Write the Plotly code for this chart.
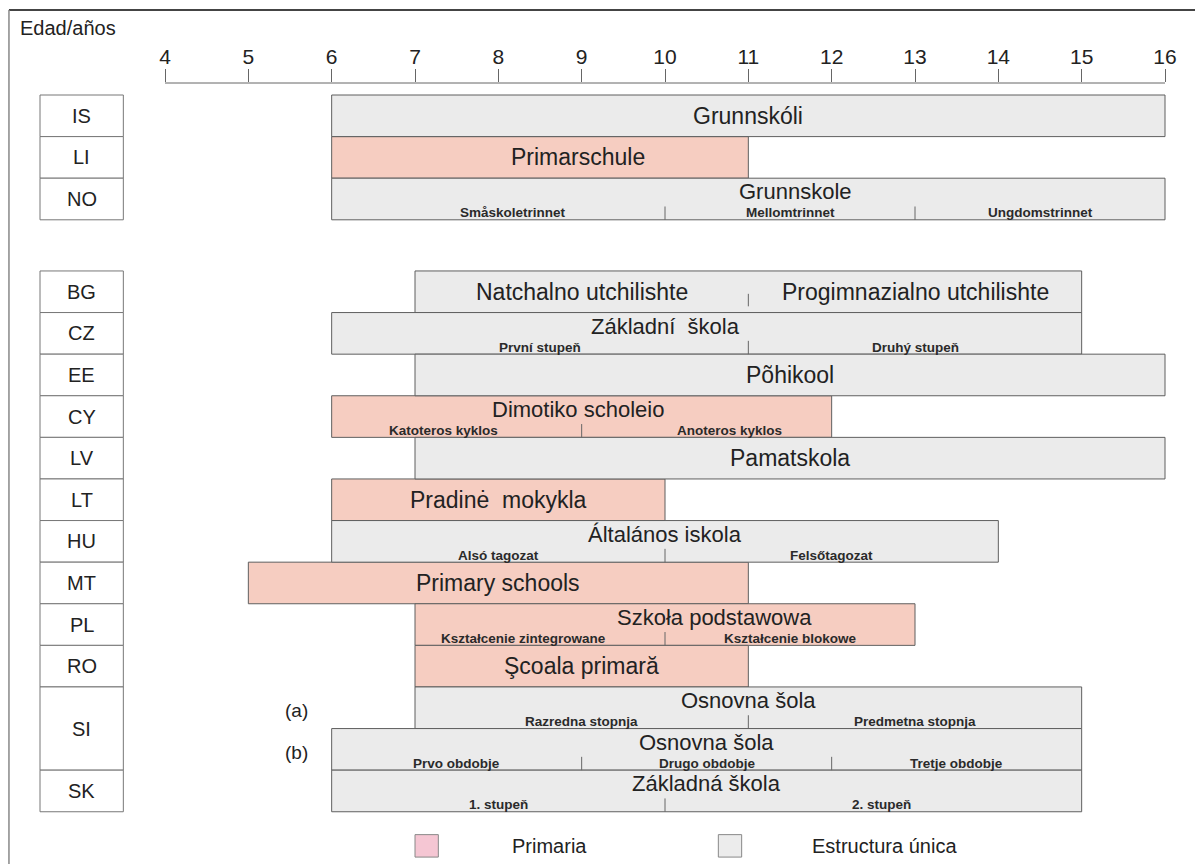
import plotly.graph_objects as go

# ---------------- data ----------------
row_country = ["IS", "LI", "NO", "BG", "CZ", "EE", "CY", "LV", "LT", "HU",
               "MT", "PL", "RO", "SI", "SI", "SK"]
row_variant = ["", "", "", "", "", "", "", "", "", "", "", "", "", "(a)", "(b)", ""]
start_age = [6, 6, 6, 7, 6, 7, 6, 7, 6, 6, 5, 7, 7, 7, 6, 6]
end_age = [16, 11, 16, 15, 15, 16, 12, 16, 10, 14, 11, 13, 11, 15, 15, 15]
school_type = ["Estructura única", "Primaria", "Estructura única", "Estructura única",
               "Estructura única", "Estructura única", "Primaria", "Estructura única",
               "Primaria", "Estructura única", "Primaria", "Primaria", "Primaria",
               "Estructura única", "Estructura única", "Estructura única"]
main_label = ["Grunnskóli", "Primarschule", "Grunnskole", "", "Základní  škola",
              "Põhikool", "Dimotiko scholeio", "Pamatskola", "Pradinė  mokykla",
              "Általános iskola", "Primary schools", "Szkoła podstawowa",
              "Şcoala primară", "Osnovna šola", "Osnovna šola", "Základná škola"]
# stage boundaries (ages) and stage names per row
stage_breaks = [[], [], [10, 13], [11], [11], [], [9], [], [], [10], [], [10], [],
                [11], [9, 12], [10]]
stage_names = [[], [], ["Småskoletrinnet", "Mellomtrinnet", "Ungdomstrinnet"],
               ["Natchalno utchilishte", "Progimnazialno utchilishte"],
               ["První stupeň", "Druhý stupeň"], [],
               ["Katoteros kyklos", "Anoteros kyklos"], [], [],
               ["Alsó tagozat", "Felsőtagozat"], [],
               ["Kształcenie zintegrowane", "Kształcenie blokowe"], [],
               ["Razredna stopnja", "Predmetna stopnja"],
               ["Prvo obdobje", "Drugo obdobje", "Tretje obdobje"],
               ["1. stupeň", "2. stupeň"]]
# rows whose stage names are printed in the large font
large_stage_rows = ["BG"]
age_ticks = list(range(4, 17))
legend_items = ["Primaria", "Estructura única"]

# ---------------- layout helpers ----------------
colors = {"Primaria": "#f6cdc1", "Estructura única": "#ebebeb"}
legend_colors = {"Primaria": "#f5c6d3", "Estructura única": "#ececec"}
FONT = "Liberation Sans, Arial, sans-serif"
W, H = 1195, 856          # page adds an 8px body margin
OFF = 8
PLOT_H = 781
GAP = 1.23          # extra space (in rows) after the first group
row_top = []
for i in range(len(row_country)):
    row_top.append(i + (GAP if i >= 3 else 0))
label_centre = [11, 8.95, 11.57, None, 10.0, 11.5, 8.96, 11.5, 8.0, 10.0, 8.0,
                10.59, 9.0, 11.0, 10.5, 10.5]
stage_label_shift = {("NO", 0): 0.17, ("CY", 0): -0.16, ("CY", 1): 0.27,
                     ("PL", 0): -0.2, ("SK", 1): 0.1}


def px_x(s):
    return (s - OFF) / W


def px_y(s):
    return (H + OFF - s) / PLOT_H


fig = go.Figure()

# programme bars
for t in legend_items:
    idx = [i for i in range(len(row_country)) if school_type[i] == t]
    fig.add_trace(go.Bar(
        orientation="h",
        y=[row_top[i] + 0.5 for i in idx],
        x=[end_age[i] - start_age[i] for i in idx],
        base=[start_age[i] for i in idx],
        width=[1] * len(idx),
        marker=dict(color=colors[t], line=dict(color="#5f5f5f", width=1)),
        showlegend=False, hoverinfo="skip",
    ))

# country boxes (SI spans two rows)
box_y, box_w, box_txt = [], [], []
seen = []
for i, c in enumerate(row_country):
    if c in seen:
        continue
    n = row_country.count(c)
    seen.append(c)
    box_y.append(row_top[i] + n / 2)
    box_w.append(n)
    box_txt.append(c)
fig.add_trace(go.Bar(
    orientation="h", y=box_y, x=[1] * len(box_y), base=[2.5] * len(box_y),
    width=box_w, marker=dict(color="white", line=dict(color="#777", width=1)),
    showlegend=False, hoverinfo="skip",
))

annotations = []
shapes = []
for c, y in zip(box_txt, box_y):
    annotations.append(dict(x=3.0, y=y, xref="x", yref="y", text=c, showarrow=False,
                            font=dict(family=FONT, size=20, color="#222")))

for i in range(len(row_country)):
    top = row_top[i]
    bottom = top + 1
    bounds = [start_age[i]] + stage_breaks[i] + [end_age[i]]
    large = row_country[i] in large_stage_rows
    has_sub = len(stage_names[i]) > 0 and not large
    if main_label[i]:
        annotations.append(dict(
            x=label_centre[i], y=top + (0.33 if has_sub else 0.5), xref="x", yref="y",
            text=main_label[i], showarrow=False, borderpad=0,
            font=dict(family=FONT, size=22 if has_sub else 23, color="#222")))
    for k, name in enumerate(stage_names[i]):
        cx = (bounds[k] + bounds[k + 1]) / 2
        cx += stage_label_shift.get((row_country[i], k), 0)
        if large:
            annotations.append(dict(x=cx, y=top + 0.5, xref="x", yref="y", text=name,
                                    showarrow=False,
                                    font=dict(family=FONT, size=23, color="#222")))
        else:
            annotations.append(dict(x=cx, y=top + 0.835, xref="x", yref="y", text=name,
                                    showarrow=False, borderpad=0,
                                    font=dict(family=FONT, size=13.5, color="#2a2a2a",
                                              weight="bold")))
    for b in stage_breaks[i]:
        y0, y1 = (bottom, bottom - 0.32) if not large else (top + 0.55, top + 0.85)
        shapes.append(dict(type="line", xref="x", yref="y", x0=b, x1=b, y0=y0, y1=y1,
                           line=dict(color="#666", width=1)))
    if row_variant[i]:
        annotations.append(dict(x=5.58, y=top + 0.57, xref="x", yref="y",
                                text=row_variant[i], showarrow=False,
                                font=dict(family=FONT, size=19, color="#222")))

# axis line only between first and last age
shapes.append(dict(type="line", xref="x", yref="paper", x0=age_ticks[0], x1=age_ticks[-1],
                   y0=1, y1=1, line=dict(color="#666", width=1)))

# legend
leg_y = 18.05
leg_pos = {"Primaria": (7.0, 8.14), "Estructura única": (10.64, 11.74)}
for t in legend_items:
    bx, tx = leg_pos[t]
    shapes.append(dict(type="rect", xref="x", yref="y", x0=bx, x1=bx + 0.28,
                       y0=leg_y - 0.27, y1=leg_y + 0.27,
                       fillcolor=legend_colors[t], line=dict(color="#888", width=1)))
    annotations.append(dict(x=tx, y=leg_y, xref="x", yref="y", text=t, showarrow=False,
                            xanchor="left", yanchor="middle",
                            font=dict(family=FONT, size=20, color="#222")))

# title in corner
annotations.append(dict(x=px_x(18), y=px_y(28), xref="paper", yref="paper",
                        text="Edad/años", showarrow=False, xanchor="left",
                        yanchor="middle",
                        font=dict(family=FONT, size=20, color="#222")))

# outer frame
shapes.append(dict(type="line", xref="paper", yref="paper", x0=0.0008, x1=1.01,
                   y0=px_y(10), y1=px_y(10), line=dict(color="#444", width=2)))
shapes.append(dict(type="line", xref="paper", yref="paper", x0=0.0008, x1=0.0008,
                   y0=-0.01, y1=px_y(10), line=dict(color="#888", width=1.5)))

fig.update_layout(
    width=W, height=H,
    margin=dict(l=0, r=0, t=75, b=0, autoexpand=False),
    paper_bgcolor="white", plot_bgcolor="white",
    barmode="overlay",
    shapes=shapes, annotations=annotations,
    xaxis=dict(side="top", range=[2.116, 16.456], tickvals=age_ticks,
               ticks="outside", ticklen=13, tickcolor="#666", tickwidth=1,
               ticklabelstandoff=-3,
               tickfont=dict(family=FONT, size=21, color="#222"),
               showgrid=False, zeroline=False, showline=False, fixedrange=True),
    yaxis=dict(range=[18.486, -0.2885], showgrid=False, zeroline=False,
               showticklabels=False, showline=False, fixedrange=True),
)

fig.write_html("out.html")
